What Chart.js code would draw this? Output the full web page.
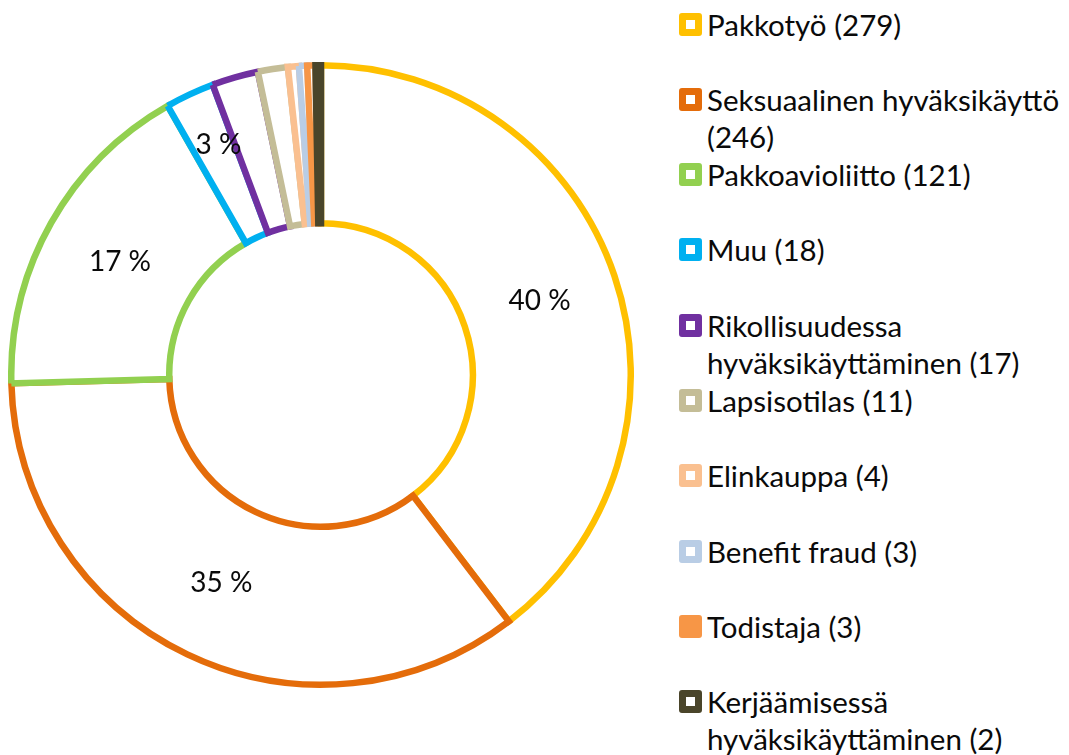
<!DOCTYPE html>
<html><head><meta charset="utf-8">
<script src="https://cdn.jsdelivr.net/npm/chart.js@4/dist/chart.umd.min.js"></script>
<style>
html,body{margin:0;padding:0;background:#fff;width:1069px;height:755px;overflow:hidden;font-family:Lato,'Open Sans',sans-serif;}
#c{position:absolute;left:8px;top:0;}
#legend{position:absolute;left:679px;top:0;width:390px;height:755px;}
.item{position:absolute;left:0;display:flex;align-items:flex-start;}
.box{flex:none;width:23px;height:23px;box-sizing:border-box;border-radius:3px;border:7.5px solid;background:#fff;margin-top:7px;}
.txt{margin-left:5px;font-size:29.5px;line-height:37px;color:#0a0a0a;max-width:360px;}
</style></head><body>
<canvas id="c" width="626" height="750"></canvas>
<div id="legend"></div>
<script>
// ---- data ----
const categories = ["Pakkotyö","Seksuaalinen hyväksikäyttö","Pakkoavioliitto","Muu","Rikollisuudessa hyväksikäyttäminen","Lapsisotilas","Elinkauppa","Benefit fraud","Todistaja","Kerjäämisessä hyväksikäyttäminen"];
const counts = [279,246,121,18,17,11,4,3,3,2];
const colors = ["#FFC000","#E46C0A","#92D050","#00B0F0","#7030A0","#C4BD97","#FAC090","#B9CDE5","#F79646","#4A452A"];
const showPercent = [true,true,true,true,false,false,false,false,false,false];
const filledLegend = [false,false,false,false,false,false,false,false,true,false];

const total = counts.reduce((a,b)=>a+b,0);

const pctPlugin = {
  id:'pctLabels',
  afterDatasetsDraw(chart){
    const ctx = chart.ctx;
    const meta = chart.getDatasetMeta(0);
    ctx.save();
    ctx.font = '28px Lato, "Open Sans", sans-serif';
    ctx.fillStyle = '#0a0a0a';
    ctx.textAlign = 'center';
    ctx.textBaseline = 'middle';
    meta.data.forEach((arc,i)=>{
      if(!showPercent[i]) return;
      const p = arc.getProps(['x','y','startAngle','endAngle','innerRadius','outerRadius'],true);
      const pct = Math.round(counts[i]/total*100);
      const mid = (p.startAngle+p.endAngle)/2;
      let r = (p.innerRadius+p.outerRadius)/2;
      if (pct < 5) r = p.outerRadius - 56;
      ctx.fillText(pct+' %', p.x+Math.cos(mid)*r + (pct<5?5:0), p.y+Math.sin(mid)*r);
    });
    ctx.restore();
  }
};

new Chart(document.getElementById('c'), {
  type:'doughnut',
  data:{
    labels: categories,
    datasets:[{
      data: counts,
      backgroundColor: '#ffffff',
      borderColor: colors,
      borderWidth: 6.5,
      borderJoinStyle: 'miter',
      hoverOffset: 0
    }]
  },
  options:{
    responsive:false,
    animation:false,
    cutout:'49%',
    layout:{padding:0},
    plugins:{legend:{display:false},tooltip:{enabled:false}}
  },
  plugins:[pctPlugin]
});

// HTML legend
const leg = document.getElementById('legend');
categories.forEach((name,i)=>{
  const it = document.createElement('div');
  it.className='item';
  it.style.top = (5.5 + i*75.3)+'px';
  const b = document.createElement('div');
  b.className='box';
  b.style.borderColor = colors[i];
  if (filledLegend[i]) b.style.background = colors[i];
  const t = document.createElement('div');
  t.className='txt';
  t.textContent = name + ' (' + counts[i] + ')';
  it.appendChild(b); it.appendChild(t);
  leg.appendChild(it);
});
</script>
</body></html>
